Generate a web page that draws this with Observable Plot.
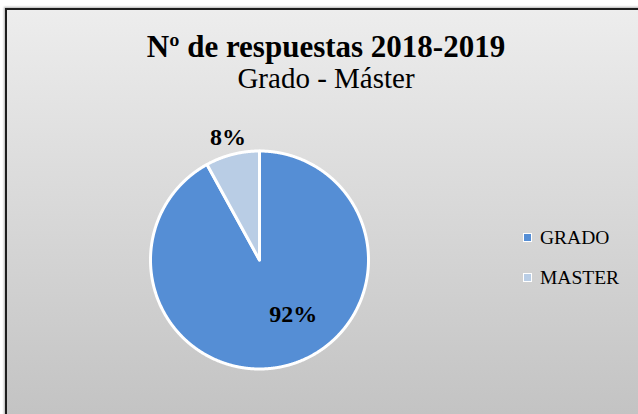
<!DOCTYPE html>
<html><head><meta charset="utf-8">
<script src="https://cdn.jsdelivr.net/npm/d3@7"></script>
<script src="https://cdn.jsdelivr.net/npm/@observablehq/plot@0.6"></script>
<style>
html,body{margin:0;padding:0;background:#fff;}
body{width:638px;height:414px;overflow:hidden;position:relative;font-family:"Liberation Serif",serif;}
#frame{position:absolute;left:5px;top:8px;width:700px;height:500px;border-left:2px solid #1d1d1d;border-top:2px solid #1d1d1d;background:linear-gradient(to bottom,#ededed 0px,#c3c3c3 406px);box-shadow:-1px -1px 2px rgba(0,0,0,.3);}
.t{position:absolute;left:0;width:652px;text-align:center;color:#000;white-space:nowrap;}
#title{top:31px;font-size:31px;line-height:31px;font-weight:bold;}
#subtitle{top:64px;font-size:29px;line-height:29px;}
#chart{position:absolute;left:7px;top:100px;}
.leg{position:absolute;left:523px;height:19px;font-size:19.5px;line-height:19px;display:flex;align-items:center;color:#000;}
.sw{width:7px;height:7px;border:1.5px solid #fff;margin-right:8px;}
</style>
</head><body>
<div id="frame"></div>
<div id="title" class="t"></div>
<div id="subtitle" class="t"></div>
<div id="chart"></div>
<div id="legend"></div>
<script>
const categories = ["GRADO", "MASTER"];
const values = [92, 8];
const valueLabels = ["92%", "8%"];
const colors = ["#558ED5", "#B9CDE5"];
const titleText = "Nº de respuestas 2018-2019";
const subtitleText = "Grado - Máster";

document.getElementById("title").textContent = titleText;
document.getElementById("subtitle").textContent = subtitleText;

const W = 631, H = 314, cx = 252, cy = 159.5, k = 109;
const arcs = d3.pie().sort(null).value(d => d)(values);
const pts = [];
arcs.forEach((a, i) => {
  pts.push({cat: categories[i], x: 0, y: 0});
  const n = Math.max(4, Math.ceil((a.endAngle - a.startAngle) / 0.005));
  for (let j = 0; j <= n; j++) {
    const t = a.startAngle + (a.endAngle - a.startAngle) * j / n;
    pts.push({cat: categories[i], x: Math.sin(t), y: Math.cos(t)});
  }
});
// label placement (Excel "best fit"): big slice inside, small slice outside
const labelData = arcs.map((a, i) => {
  const share = a.value / d3.sum(values);
  const mid = (a.startAngle + a.endAngle) / 2;
  const inside = share > 0.2;
  const r = inside ? 0.59 : 1.165;
  const ang = inside ? 148.3 * Math.PI / 180 : mid;
  return {x: r * Math.sin(ang), y: r * Math.cos(ang), label: valueLabels[i]};
});

const chart = Plot.plot({
  width: W, height: H, margin: 0,
  x: {domain: [-cx / k, (W - cx) / k], axis: null},
  y: {domain: [-(H - cy) / k, cy / k], axis: null},
  color: {domain: categories, range: colors},
  style: {background: "transparent", overflow: "visible"},
  marks: [
    Plot.line(pts, {x: "x", y: "y", z: "cat", fill: "cat", stroke: "white", strokeWidth: 3, curve: "linear-closed", strokeLinejoin: "round"}),
    Plot.text(labelData, {x: "x", y: "y", text: "label", fontSize: 24, fontWeight: "bold", fontFamily: "Liberation Serif", fill: "black"})
  ]
});
document.getElementById("chart").appendChild(chart);

const leg = document.getElementById("legend");
categories.forEach((c, i) => {
  const row = document.createElement("div");
  row.className = "leg";
  row.style.top = (227.5 + i * 40) + "px";
  const sw = document.createElement("span");
  sw.className = "sw";
  sw.style.background = colors[i];
  row.appendChild(sw);
  const tx = document.createElement("span");
  tx.textContent = c;
  row.appendChild(tx);
  leg.appendChild(row);
});
</script>
</body></html>
